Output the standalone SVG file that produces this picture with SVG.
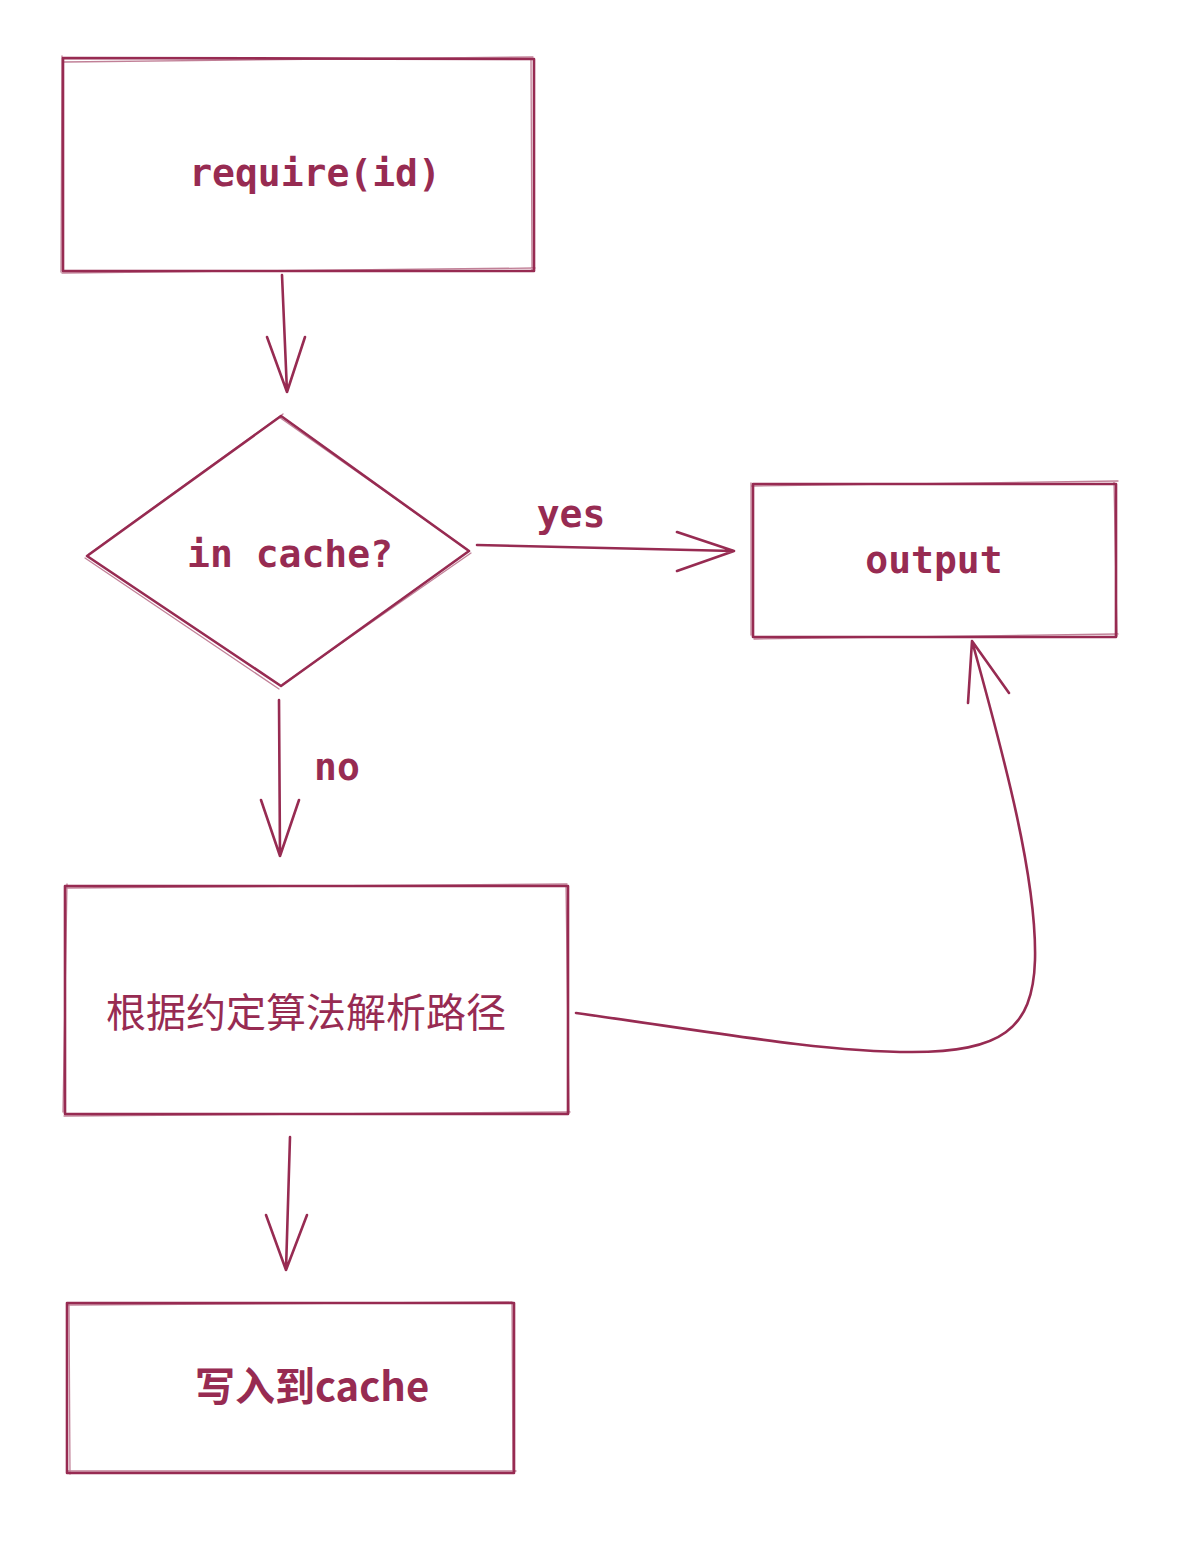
<svg xmlns="http://www.w3.org/2000/svg" width="1190" height="1546" viewBox="0 0 1190 1546">
<style>
.s{fill:none;stroke:#972b52;stroke-width:2.6;stroke-linecap:round;stroke-linejoin:round}
.t{fill:none;stroke:#972b52;stroke-width:1.3;stroke-linecap:round;opacity:0.6}
.m{font-family:"DejaVu Sans Mono","Liberation Mono",monospace;font-weight:bold;font-size:38px;fill:#972b52}
.c{font-family:"Noto Sans CJK SC","Noto Sans",sans-serif;fill:#972b52}
</style>
<rect width="1190" height="1546" fill="#ffffff"/>
<g id="node-require">
<path class="s" d="M63,58 L534,59 M534,59 L534,271 M534,271 L63,271 M63,271 L63,58"/>
<path class="t" d="M64,62 L533,57 M531,58 L532,270 M535,268 L62,273 M61,272 L62,56"/>
<text class="m" x="315" y="186" text-anchor="middle">require(id)</text>
</g>
<g id="node-incache">
<path class="s" d="M281,416 L469,551 L281,686 L87,556 Z"/>
<path class="t" d="M279,417 L467,549 M471,553 L283,684 M279,689 L85,558 M89,554 L283,414"/>
<text class="m" x="290" y="567" text-anchor="middle">in cache?</text>
</g>
<g id="node-output">
<path class="s" d="M753,484 L1116,484 M1116,484 L1116,637 M1116,637 L753,637 M753,637 L753,484"/>
<path class="t" d="M752,486 L1118,481 M1114,482 L1117,636 M1118,634 L754,639 M751,635 L751,483"/>
<text class="m" x="934" y="573" text-anchor="middle">output</text>
</g>
<g id="node-resolve">
<path class="s" d="M65,886 L568,886 M568,886 L568,1114 M568,1114 L65,1114 M65,1114 L65,886"/>
<path class="t" d="M66,888 L567,884 M566,885 L569,1113 M570,1112 L64,1116 M63,1112 L67,884"/>
<text class="c" x="106" y="1027" font-size="40">根据约定算法解析路径</text>
</g>
<g id="node-write">
<path class="s" d="M67,1303 L514,1303 M514,1303 L514,1473 M514,1473 L67,1473 M67,1473 L67,1303"/>
<path class="t" d="M68,1305 L512,1302 M512,1304 L513,1472 M516,1471 L68,1471 M70,1474 L69,1304"/>
<text class="c" x="195" y="1401" font-size="40" font-weight="600">写入到cache</text>
</g>
<g id="connectors">
<path class="s" d="M282,275 L287,392 M267,337 L287,392 L305,337"/>
<path class="s" d="M477,545 L734,551 M677,532 L734,551 L677,571"/>
<text class="m" x="571" y="527" text-anchor="middle">yes</text>
<path class="s" d="M279,700 L280,856 M261,800 L280,856 L299,800"/>
<text class="m" x="337" y="780" text-anchor="middle">no</text>
<path class="s" d="M576,1013 C700,1030 820,1052 912,1052 C1000,1052 1033,1030 1035,960 C1037,880 1005,760 972,641 M968,703 L972,641 L1009,693"/>
<path class="s" d="M290,1137 L286,1270 M266,1215 L286,1270 L307,1215"/>
</g>
</svg>
